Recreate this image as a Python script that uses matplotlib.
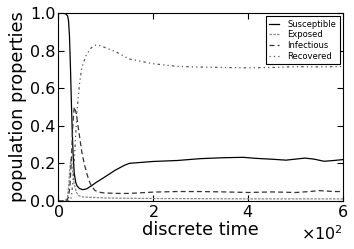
import numpy as np
import matplotlib.pyplot as plt

# time samples (finer around the outbreak)
t_s = [0, 10, 16, 20, 22, 24, 26, 28, 30, 32, 34, 37, 40, 45, 52, 60, 70, 80, 100, 120,
       140, 150, 175, 200, 250, 300, 350, 390, 420, 450, 480, 520, 540, 560, 580, 600]
susceptible = [1.0, 1.0, 0.995, 0.985, 0.96, 0.88, 0.72, 0.53, 0.36, 0.23, 0.15, 0.1, 0.08,
               0.066, 0.06, 0.064, 0.08, 0.098, 0.13, 0.163, 0.19, 0.2, 0.205, 0.21, 0.215,
               0.225, 0.23, 0.232, 0.226, 0.222, 0.217, 0.228, 0.222, 0.211, 0.215, 0.22]

t_e = [0, 15, 20, 23, 25, 27, 29, 31, 34, 38, 42, 50, 60, 80, 100, 150, 200, 300, 400, 500, 600]
exposed = [0.0, 0.0, 0.02, 0.1, 0.18, 0.22, 0.2, 0.15, 0.09, 0.05, 0.03, 0.022, 0.02, 0.018,
           0.016, 0.014, 0.013, 0.012, 0.011, 0.011, 0.011]

t_i = [0, 18, 22, 25, 28, 31, 34, 38, 42, 46, 50, 55, 60, 65, 70, 78, 90, 100, 130, 150,
       200, 250, 300, 350, 400, 450, 500, 530, 550, 580, 600]
infectious = [0.0, 0.0, 0.02, 0.08, 0.22, 0.4, 0.5, 0.47, 0.4, 0.33, 0.26, 0.2, 0.15, 0.11,
              0.08, 0.055, 0.045, 0.042, 0.04, 0.04, 0.047, 0.05, 0.05, 0.048, 0.045, 0.048,
              0.045, 0.05, 0.055, 0.05, 0.05]

t_r = [0, 25, 28, 32, 36, 40, 45, 50, 60, 70, 80, 90, 100, 120, 150, 200, 250, 300, 350,
       400, 450, 500, 550, 600]
recovered = [0.0, 0.0, 0.02, 0.12, 0.3, 0.48, 0.62, 0.71, 0.78, 0.815, 0.83, 0.825, 0.815,
             0.795, 0.755, 0.73, 0.716, 0.712, 0.71, 0.708, 0.71, 0.714, 0.713, 0.715]

fig = plt.figure(figsize=(3.54, 2.49), dpi=100)
ax = fig.add_axes([0.164, 0.193, 0.805, 0.755])

ax.plot(t_s, susceptible, '-', color='black', lw=0.9, label='Susceptible')
ax.plot(t_e, exposed, color='#888888', lw=0.9, linestyle=(0, (2, 1)), label='Exposed')
ax.plot(t_i, infectious, '--', color='#333333', lw=0.9, dashes=(4, 2.5), label='Infectious')
ax.plot(t_r, recovered, ':', color='#555555', lw=0.9, dashes=(1, 2.5, 1, 2.5, 2, 2.5), label='Recovered')

ax.set_xlim(0, 600)
ax.set_ylim(0, 1.0)
ax.set_yticks(np.arange(0, 1.01, 0.2))
ax.ticklabel_format(style='sci', axis='x', scilimits=(0, 0), useMathText=True)
ax.tick_params(direction='in', top=True, right=True, labelsize=11.5, pad=2, length=4)
ax.xaxis.get_offset_text().set_fontsize(11.5)
ax.set_xlabel('discrete time', fontsize=12.8, labelpad=1)
ax.set_ylabel('population properties', fontsize=12.8, labelpad=2)

leg = ax.legend(loc='upper right', fontsize=6, fancybox=False, edgecolor='black',
                framealpha=1, handlelength=1.2, handletextpad=1.0, labelspacing=0.2,
                borderpad=0.4, borderaxespad=0.4)
leg.get_frame().set_linewidth(0.8)

fig.savefig('out.png', dpi=100)
